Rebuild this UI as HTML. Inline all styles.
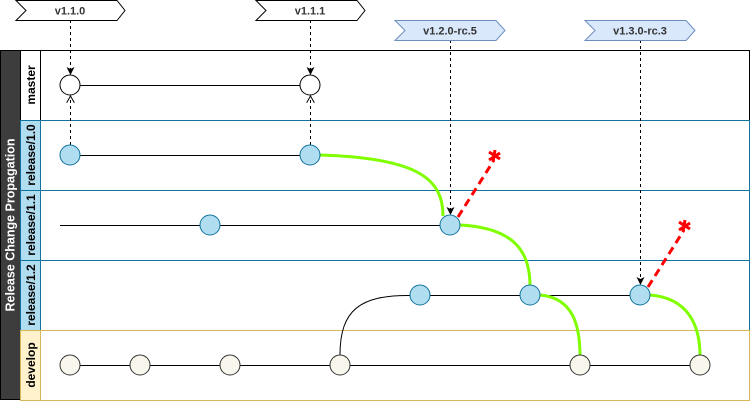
<!DOCTYPE html>
<html><head><meta charset="utf-8"><style>
body{margin:0;background:#fff}
svg{display:block;font-family:"Liberation Sans",Arial,sans-serif}
</style></head><body>
<svg width="751" height="401" viewBox="0 0 751 401">
<defs>
<marker id="af" markerWidth="8" markerHeight="8" refX="7" refY="4" orient="auto"><path d="M0,0 L8,4 L0,8 L2,4z" fill="#000"/></marker>
<marker id="ao" markerWidth="8" markerHeight="8" refX="7" refY="4" orient="auto"><path d="M0,0 L7,4 L0,8" fill="none" stroke="#000"/></marker>
</defs>
<rect x="0.5" y="50.5" width="20" height="349" fill="#3d3d3d" stroke="#000"/>
<text transform="translate(14.5,225) rotate(-90)" text-anchor="middle" font-size="12.5" font-weight="bold" fill="#fff">Release Change Propagation</text>
<g>
<rect x="20.5" y="50.5" width="729" height="70" fill="#fff" stroke="#000"/>
<rect x="20.5" y="50.5" width="20" height="70" fill="#fff" stroke="#000"/>
<text transform="translate(35,85) rotate(-90)" text-anchor="middle" font-size="12" font-weight="bold">master</text></g>
<g>
<rect x="20.5" y="120.5" width="729" height="70" fill="#fff" stroke="#10739e"/>
<rect x="20.5" y="120.5" width="20" height="70" fill="#b1ddf0" stroke="#10739e"/>
<text transform="translate(35,155) rotate(-90)" text-anchor="middle" font-size="12" font-weight="bold">release/1.0</text></g>
<g>
<rect x="20.5" y="190.5" width="729" height="70" fill="#fff" stroke="#10739e"/>
<rect x="20.5" y="190.5" width="20" height="70" fill="#b1ddf0" stroke="#10739e"/>
<text transform="translate(35,225) rotate(-90)" text-anchor="middle" font-size="12" font-weight="bold">release/1.1</text></g>
<g>
<rect x="20.5" y="260.5" width="729" height="70" fill="#fff" stroke="#10739e"/>
<rect x="20.5" y="260.5" width="20" height="70" fill="#b1ddf0" stroke="#10739e"/>
<text transform="translate(35,295) rotate(-90)" text-anchor="middle" font-size="12" font-weight="bold">release/1.2</text></g>
<g>
<rect x="20.5" y="330.5" width="729" height="70" fill="#fff" stroke="#d6b656"/>
<rect x="20.5" y="330.5" width="20" height="70" fill="#fff2cc" stroke="#d6b656"/>
<text transform="translate(35,365) rotate(-90)" text-anchor="middle" font-size="12" font-weight="bold">develop</text></g>
<g stroke="#000" stroke-width="1" fill="none">
<line x1="80" y1="85.5" x2="300" y2="85.5"/>
<line x1="80" y1="155.5" x2="300" y2="155.5"/>
<line x1="60" y1="225.5" x2="440" y2="225.5"/>
<line x1="430" y1="295.5" x2="630" y2="295.5"/>
<line x1="60" y1="365.5" x2="690" y2="365.5"/>
<path d="M340,355 C340,310 360,295 410,295.5"/>
</g>
<g stroke="#80ff00" stroke-width="3" fill="none">
<path d="M320,155 C420,158 443,180 443,216"/>
<path d="M460,225 C518,228 530,255 530,286"/>
<path d="M540,295 C573,298 580,325 580,356"/>
<path d="M650,295 C688,298 700,325 700,356"/>
</g>
<g stroke="#ff0000" stroke-width="3" stroke-dasharray="8,5" fill="none">
<line x1="458" y1="217" x2="494" y2="160"/>
<line x1="648" y1="287" x2="684" y2="230"/>
</g>
<g stroke="#ff0000" stroke-width="3">
<path d="M489,152 l11,7 M489,160 l11,-7 M495,150 l-2,12"/>
<path d="M679,222 l11,7 M679,230 l11,-7 M685,220 l-2,12"/>
</g>
<g stroke="#000" stroke-dasharray="3,3" fill="none">
<line x1="70.5" y1="20" x2="70.5" y2="74" marker-end="url(#af)"/>
<line x1="310.5" y1="20" x2="310.5" y2="74" marker-end="url(#af)"/>
<line x1="70.5" y1="145" x2="70.5" y2="96" marker-end="url(#ao)"/>
<line x1="310.5" y1="145" x2="310.5" y2="96" marker-end="url(#ao)"/>
<line x1="450.5" y1="40" x2="450.5" y2="214" marker-end="url(#af)"/>
<line x1="640.5" y1="40" x2="640.5" y2="284" marker-end="url(#af)"/>
</g>
<g stroke="#000" fill="#fff">
<circle cx="70" cy="85" r="10"/><circle cx="310" cy="85" r="10"/></g>
<g stroke="#10739e" fill="#b1ddf0">
<circle cx="70" cy="155" r="10"/><circle cx="310" cy="155" r="10"/>
<circle cx="210" cy="225" r="10"/><circle cx="450" cy="225" r="10"/>
<circle cx="420" cy="295" r="10"/><circle cx="530" cy="295" r="10"/><circle cx="640" cy="295" r="10"/></g>
<g stroke="#333" fill="#f9f7ed">
<circle cx="70" cy="365" r="10"/><circle cx="140" cy="365" r="10"/><circle cx="230" cy="365" r="10"/>
<circle cx="340" cy="365" r="10"/><circle cx="580" cy="365" r="10"/><circle cx="700" cy="365" r="10"/></g>
<g font-size="11" font-weight="bold" fill="#333" text-anchor="middle">
<g><path d="M16,0.5 H117 L125,10.5 L117,20.5 H16 L26,10.5z" fill="#fff" stroke="#000"/><text x="70" y="14.5">v1.1.0</text></g>
<g><path d="M256,0.5 H357 L365,10.5 L357,20.5 H256 L266,10.5z" fill="#fff" stroke="#000"/><text x="310" y="14.5">v1.1.1</text></g>
<g><path d="M395,20.5 H496 L505,30.5 L496,40.5 H395 L405,30.5z" fill="#dae8fc" stroke="#6c8ebf"/><text x="450" y="34.5">v1.2.0-rc.5</text></g>
<g><path d="M585,20.5 H686 L695,30.5 L686,40.5 H585 L595,30.5z" fill="#dae8fc" stroke="#6c8ebf"/><text x="640" y="34.5">v1.3.0-rc.3</text></g>
</g>
</svg>
</body></html>
